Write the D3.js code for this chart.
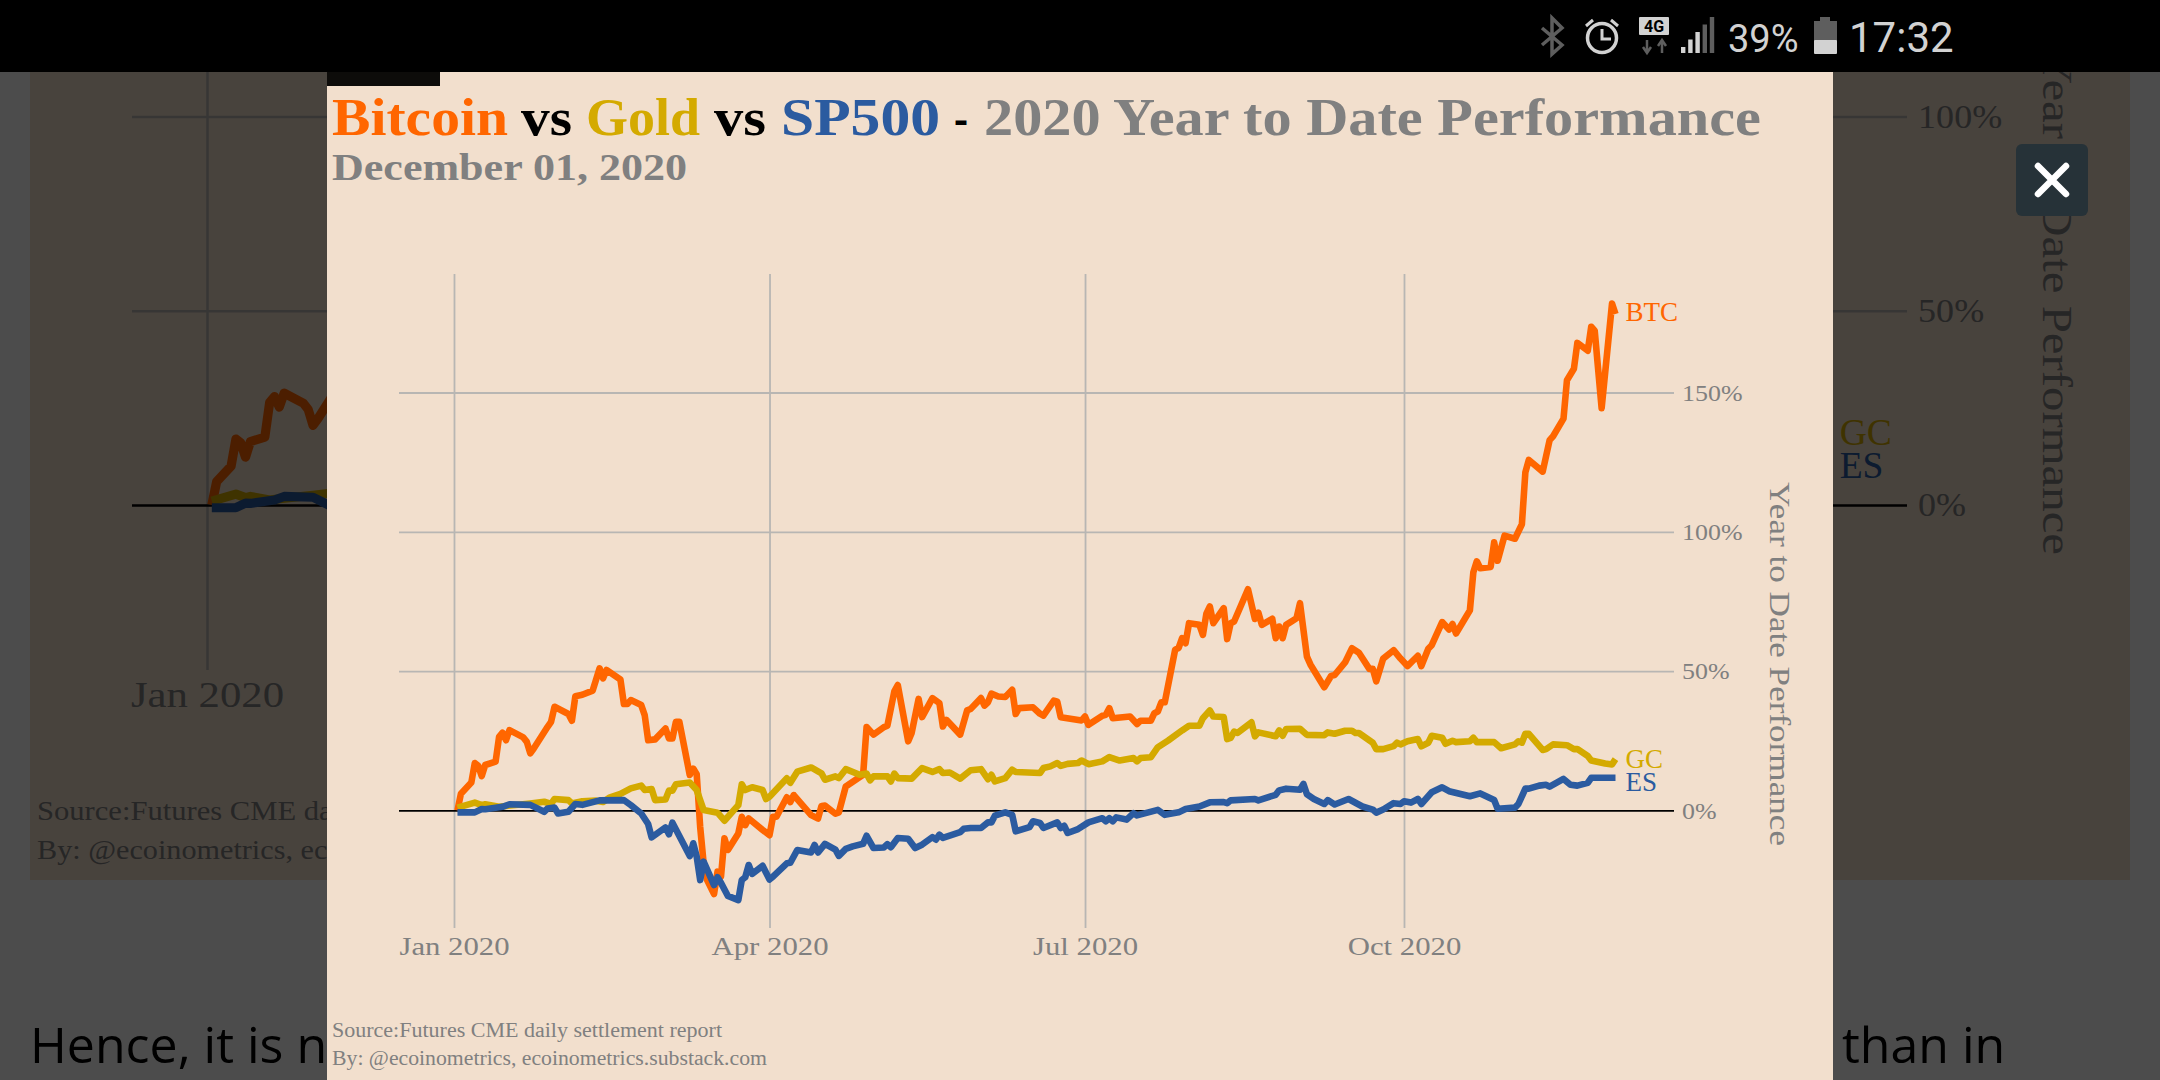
<!DOCTYPE html>
<html>
<head>
<meta charset="utf-8">
<script src="https://cdn.jsdelivr.net/npm/d3@7"></script>
<style>
  html, body { margin: 0; padding: 0; background: #fff; }
  svg { display: block; }
</style>
</head>
<body>
<svg id="chart" width="2160" height="1080"></svg>
<script>
// [days since Jan 1 2020, year to date %]
const btcPoints = [
  [1,0],[2,6],[5,10],[6,17],[7,16],[8,12.3],[9,16.3],[12,17.5],[13,26.4],[14,27.9],[15,25.2],[16,28.8],
  [20,26.2],[21,24.6],[22,20.5],[23,22.2],[27,30],[28,31.8],[29,37.2],[33,34.6],[34,32.2],[35,41],[37,41.5],
  [40,43],[42,51],[43,47.4],[44,50.4],[48,47],[49,38.2],[50,38.2],[51,39.6],[54,37.8],[55,34.2],[56,25.2],
  [58,25.5],[61,29.4],[62,25.8],[63,25.8],[64,31.8],[65,31.8],[68,12.7],[69,15],[70,13],[71,-5.9],[72,-19],
  [73,-25],[75,-30],[76,-22],[77,-23.8],[78,-10],[79,-14.2],[82,-8.3],[83,-2.3],[84,-5.3],[85,-2.9],[89,-7],
  [91,-8.9],[92,-2.3],[93,-2.3],[96,4.7],[97,3],[98,5.5],[103,-1.7],[105,-2.9],[106,1.6],[107,1.7],[110,-1.2],
  [111,-0.7],[113,8.6],[118,12.8],[119,29.9],[121,27.2],[124,29.9],[125,30.4],[127,42.7],[128,45],[131,24.8],
  [132,27.8],[134,40],[135,33.5],[138,40.3],[140,38.5],[141,30.1],[142,32.5],[146,27.2],[148,35.9],[149,36.4],
  [152,40.3],[153,37.6],[154,38.8],[155,41.9],[157,40.9],[159,40.7],[161,43.3],[162,34.6],[163,36.7],[167,37],
  [169,34.7],[170,34],[173,39.4],[174,39],[175,33.4],[181,32.3],[182,33.7],[183,30.7],[187,34],[188,34.3],
  [189,36.7],[190,33.1],[195,33.7],[197,31],[198,32.2],[201,32.2],[202,34.9],[203,35.5],[204,38.8],[205,38.8],
  [208,57.7],[209,58.3],[210,61.8],[211,60],[212,67.2],[215,66.6],[216,63],[217,70.6],[218,73.2],[219,67.2],
  [222,72.6],[223,61.5],[224,67.2],[225,67.8],[229,79.4],[231,68.7],[232,71],[233,66.6],[236,68.8],[237,61.8],
  [238,66],[239,61.8],[240,66.6],[243,69],[244,74.4],[246,55.2],[247,52.4],[251,44.2],[253,48.3],[254,48.6],
  [257,53.1],[259,58.2],[261,56.6],[264,50.8],[265,50.8],[266,46.3],[268,54.5],[271,57.5],[273,54.5],[275,51.8],
  [278,55.5],[279,51.8],[281,58],[282,59.3],[285,67.6],[287,64.9],[288,66.9],[289,63.5],[293,71.8],[294,85.5],
  [295,89.4],[296,86.9],[299,87.4],[300,96.2],[301,89.6],[303,98.6],[306,97.5],[308,102.7],[309,121.3],[310,125.8],
  [314,121.6],[316,132.9],[317,134.3],[320,140.6],[321,154.4],[323,158.5],[324,167.8],[327,165],[328,173.6],
  [329,172.2],[331,144.4],[334,181.9],[335,178.2]
]
const gcPoints = [
  [1,1],[6,2.8],[8,1.9],[9,2.2],[13,1.3],[15,1.6],[22,2.5],[26,3.1],[28,2.3],[29,4.1],[33,3.7],[34,2.5],[37,3.3],
  [41,3.5],[43,3],[45,4.7],[48,5.9],[51,7.9],[54,8.9],[55,7.3],[57,7.7],[58,3.7],[61,3.9],[62,7.1],[63,7.1],
  [64,9.4],[68,10],[70,7.3],[72,0.1],[76,-0.8],[78,-3.7],[82,1.9],[83,9.4],[84,7.3],[86,8.3],[89,7.3],[90,4.1],
  [91,4.9],[96,11.5],[97,9.9],[99,13.9],[103,15.4],[106,13.3],[107,11],[110,12.2],[111,11.6],[113,14.8],[117,12.8],
  [119,13.2],[120,10.8],[121,12.2],[125,12.2],[126,10.4],[127,13.2],[128,11.6],[132,11.4],[135,15.2],[138,13.8],
  [140,14.8],[141,13.4],[143,13.6],[146,11.4],[149,14.4],[152,14.8],[154,11.2],[155,12.8],[156,10.4],[159,11.6],
  [161,14.6],[162,13.8],[169,13.4],[170,15.2],[172,15.8],[174,17],[175,16],[177,16.7],[180,17],[181,17.9],[183,16.6],
  [187,17.6],[189,19.1],[192,17.9],[196,18.8],[197,17.6],[198,18.8],[201,19.1],[203,22.7],[206,25.1],[210,28.7],
  [212,30.4],[215,30.4],[216,33.1],[218,35.9],[219,33.7],[222,33.5],[223,25.6],[224,26],[225,28.3],[226,27.8],
  [230,31.6],[231,26.6],[232,28],[237,26.6],[238,28.7],[239,26.8],[240,29.2],[244,29.3],[246,27.1],[251,27],[252,28],
  [254,27.5],[257,28.6],[259,28.6],[260,27.8],[261,27.8],[265,24.3],[266,22],[268,22],[271,23.1],[272,24.3],[273,23.7],
  [275,24.8],[278,25.6],[279,23],[281,24.3],[282,26.8],[285,26.1],[286,23.9],[288,25],[289,24.5],[293,24.8],[294,26.1],
  [295,24.5],[300,24.5],[302,22.3],[306,23.7],[307,24.8],[308,24.3],[309,27.5],[310,27.5],[314,21.7],[315,22],[317,23.7],
  [321,23.4],[323,22],[324,22],[327,19.5],[328,17.9],[332,16.8],[334,16.5],[335,18.4]
]
const esPoints = [
  [1,-0.7],[6,-0.7],[8,0.5],[9,0.4],[14,1.3],[16,2.2],[22,2],[26,-0.5],[27,0.7],[29,1],[30,-1.1],[33,-0.5],[35,2.3],
  [37,2],[42,3.6],[49,3.7],[51,1.9],[54,-1.1],[56,-4.9],[57,-9.7],[61,-6.1],[62,-8.6],[63,-4.4],[68,-16.4],[69,-11.8],
  [70,-16.6],[71,-25],[72,-18.4],[75,-26.8],[76,-24],[77,-26],[79,-30.7],[82,-32.2],[83,-25],[84,-24],[85,-19.6],
  [86,-22.8],[89,-19.9],[91,-24.8],[92,-23.8],[96,-19],[97,-18.8],[99,-14.2],[103,-15.1],[104,-12.4],[105,-15.1],
  [107,-12],[110,-14.1],[111,-16.3],[113,-13.8],[115,-12.9],[118,-12],[119,-9.1],[121,-13.5],[124,-13.3],[125,-12.1],
  [126,-13.2],[128,-9.9],[131,-10.2],[133,-13.5],[135,-12.3],[138,-9.6],[139,-10.5],[140,-8.7],[141,-9.9],[146,-7.8],
  [147,-6.6],[149,-6.3],[152,-6.3],[154,-4.3],[155,-4.3],[156,-1.9],[159,-0.7],[161,-1.6],[162,-7.5],[166,-6],[167,-3.9],
  [169,-4.5],[170,-6.3],[174,-4.3],[175,-6.3],[176,-5.5],[177,-8.1],[180,-6.7],[183,-4.3],[187,-2.8],[188,-3.9],[189,-2.8],
  [190,-3.9],[191,-2.5],[194,-3.3],[196,-1],[197,-1.8],[203,0.2],[205,-1.6],[209,-0.7],[211,0.5],[215,1.4],[218,2.9],
  [222,3],[223,2.6],[224,3.6],[231,4.1],[232,3.6],[237,5.6],[238,7.2],[240,7.8],[244,7.4],[245,9.5],[246,5.8],[248,4.1],
  [251,2.3],[252,3.7],[254,2.1],[258,4.1],[262,1.4],[265,0.3],[266,-0.8],[268,0.3],[271,2.6],[273,2.3],[274,3.3],[276,2.8],
  [278,4.1],[279,2.3],[282,6.5],[285,8.3],[287,6.9],[293,5.1],[296,6.1],[300,3.7],[301,0.6],[306,1],[307,2.3],[309,7.8],
  [310,7.8],[313,8.9],[315,9.2],[316,8.5],[320,11.3],[322,9.2],[324,8.9],[327,9.9],[328,11.7],[335,11.7]
]
const seriesNames = ['BTC', 'GC', 'ES']
const seriesPoints = [btcPoints, gcPoints, esPoints]
const seriesColors = ['#ff6600', '#d4aa00', '#2b5ba0']
const yTicks = [0, 50, 100, 150]
const xTickMonths = [0, 3, 6, 9]

const titleParts = [
  ['Bitcoin', '#ff6600', 332, 176],
  ['vs', '#000000', 521, 51],
  ['Gold', '#d4aa00', 586, 114],
  ['vs', '#000000', 714, 52],
  ['SP500', '#2b5ba0', 781, 159],
  ['-', '#000000', 954, 14],
  ['2020 Year to Date Performance', '#808080', 984, 777],
]
const subtitle = 'December 01, 2020'
const sourceLines = ['Source:Futures CME daily settlement report', 'By: @ecoinometrics, ecoinometrics.substack.com']
const yAxisTitle = 'Year to Date Performance'

const SERIF = '"Liberation Serif", "DejaVu Serif", serif'
const svg = d3.select('#chart')
const yearStart = new Date(Date.UTC(2020, 0, 1))
const toDate = (day) => d3.utcDay.offset(yearStart, day)

// squeeze or stretch a text selection to an exact width
function fit(sel, width) {
  sel.attr('textLength', width).attr('lengthAdjust', 'spacingAndGlyphs')
  return sel
}
function stretch(sel, factor) {
  sel.each(function () {
    d3.select(this)
      .attr('textLength', this.getComputedTextLength() * factor)
      .attr('lengthAdjust', 'spacingAndGlyphs')
  })
}

// the same chart is drawn twice: the dimmed page behind, and the opened lightbox
function drawChart(layer, o) {
  const x = d3.scaleUtc().domain([yearStart, toDate(274)]).range([o.janX, o.octX])
  const y = d3.scaleLinear().domain([0, 100]).range([o.zeroY, o.hundredY])
  const k = o.k

  const xAxis = layer.append('g')
    .attr('transform', `translate(0,${o.bottom})`)
    .call(d3.axisBottom(x)
      .tickValues(o.months.map((m) => new Date(Date.UTC(2020, m, 1))))
      .tickFormat(d3.utcFormat('%b %Y'))
      .tickSize(-654 * k)
      .tickPadding(9 * k))
  xAxis.select('.domain').remove()
  xAxis.selectAll('line').attr('stroke', o.grid).attr('stroke-width', 1.8 * k)
  xAxis.selectAll('text')
    .attr('fill', o.text)
    .attr('font-family', SERIF)
    .attr('font-size', 25 * k)
    .call(stretch, 1.23)

  const yAxis = layer.append('g')
    .attr('transform', `translate(${o.right},0)`)
    .call(d3.axisRight(y)
      .tickValues(o.ticks)
      .tickFormat((d) => d + '%')
      .tickSize(-(o.right - o.left))
      .tickPadding(8 * k))
  yAxis.select('.domain').remove()
  yAxis.selectAll('line')
    .attr('stroke', (d) => (d === 0 ? '#000' : o.grid))
    .attr('stroke-width', 1.8 * k)
  yAxis.selectAll('text')
    .attr('fill', o.text)
    .attr('font-family', SERIF)
    .attr('font-size', 24 * k)
    .call(stretch, 1.08)

  layer.append('text')
    .attr('transform', `translate(${o.titleX},${o.titleY}) rotate(90)`)
    .attr('text-anchor', 'middle')
    .attr('font-family', SERIF)
    .attr('font-size', 30 * k)
    .attr('fill', o.text)
    .text(yAxisTitle)
    .call(fit, 364 * k)

  const line = d3.line().x((d) => x(toDate(d[0]))).y((d) => y(d[1]))
  const nudges = [7.4, 8.5, 13]

  seriesPoints.forEach((points, i) => {
    layer.append('path')
      .datum(points)
      .attr('d', line)
      .attr('fill', 'none')
      .attr('stroke', seriesColors[i])
      .attr('stroke-width', 6.6 * k)
      .attr('stroke-linejoin', 'round')

    if (!o.labels.includes(seriesNames[i])) return
    const last = points[points.length - 1]
    layer.append('text')
      .attr('x', x(toDate(last[0])) + o.labelGap)
      .attr('y', y(last[1]) + nudges[i] * k)
      .attr('font-family', SERIF)
      .attr('font-size', 27 * k)
      .attr('fill', seriesColors[i])
      .text(seriesNames[i])
  })
}

// page behind the lightbox, only the parts that still show around it
const page = svg.append('g')
page.append('rect').attr('width', 2160).attr('height', 1080).attr('fill', '#fff')
page.append('rect').attr('x', 30).attr('y', 72).attr('width', 2100).attr('height', 808).attr('fill', '#f2dfcd')
drawChart(page.append('g'), {
  k: 1.39, janX: 207, octX: 207 + 274 * 4.82, zeroY: 505, hundredY: 116.6,
  bottom: 670, left: 132, right: 1907, titleX: 2043, titleY: 302,
  grid: '#b8b6b3', text: '#808080',
  months: [0], ticks: [0, 50, 100], labels: ['GC', 'ES'], labelGap: 18,
})
sourceLines.forEach((t, i) => {
  page.append('text')
    .attr('x', 37).attr('y', [820, 859][i])
    .attr('font-family', SERIF).attr('font-size', 27).attr('fill', '#808080')
    .text(t).call(fit, [542, 604][i])
})
page.append('text').attr('x', 30).attr('y', 1063)
  .attr('font-family', '"Open Sans"').attr('font-size', 50).attr('fill', '#000').text('Hence, it is n')
page.append('text').attr('x', 1842).attr('y', 1063)
  .attr('font-family', '"Open Sans"').attr('font-size', 50).attr('fill', '#000').text('than in')
page.append('rect').attr('width', 2160).attr('height', 1080).attr('fill', 'rgba(0,0,0,0.7)')

// lightbox
const modal = svg.append('g')
modal.append('rect').attr('x', 327).attr('y', 72).attr('width', 1506).attr('height', 1008).attr('fill', '#f2dfcd')
modal.append('rect').attr('x', 327).attr('y', 72).attr('width', 113).attr('height', 14).attr('fill', '#0d0c0a')

titleParts.forEach(([label, color, tx, width]) => {
  modal.append('text')
    .attr('x', tx).attr('y', 135)
    .attr('font-family', SERIF).attr('font-weight', 700).attr('font-size', 52)
    .attr('fill', color).text(label)
    .call(fit, width)
})
modal.append('text')
  .attr('x', 332).attr('y', 180)
  .attr('font-family', SERIF).attr('font-weight', 700).attr('font-size', 37)
  .attr('fill', '#808080').text(subtitle)
  .call(fit, 355)

drawChart(modal.append('g'), {
  k: 1, janX: 454, octX: 1404, zeroY: 810.4, hundredY: 531.8,
  bottom: 928, left: 399, right: 1674, titleX: 1770, titleY: 664,
  grid: '#b8b6b3', text: '#808080',
  months: xTickMonths, ticks: yTicks, labels: seriesNames, labelGap: 10,
})
sourceLines.forEach((t, i) => {
  modal.append('text')
    .attr('x', 332).attr('y', [1037, 1065][i])
    .attr('font-family', SERIF).attr('font-size', 20).attr('fill', '#808080')
    .text(t).call(fit, [390, 435][i])
})

// close button
const closeBtn = svg.append('g')
closeBtn.append('rect')
  .attr('x', 2016).attr('y', 144).attr('width', 72).attr('height', 72).attr('rx', 6)
  .attr('fill', '#263238')
closeBtn.append('path')
  .attr('d', 'M2038 166L2066 194M2066 166L2038 194')
  .attr('stroke', '#fff').attr('stroke-width', 6.5).attr('stroke-linecap', 'round')

// phone status bar
const bar = svg.append('g')
bar.append('rect').attr('width', 2160).attr('height', 72).attr('fill', '#000')
const LIGHT = '#d2d2d2'
const DIM = '#5e5e5e'
bar.append('path') // bluetooth
  .attr('d', 'M1542 28L1562 45L1552 54L1552 18L1562 28L1542 45')
  .attr('fill', 'none').attr('stroke', DIM).attr('stroke-width', 3.5)
bar.append('circle').attr('cx', 1602).attr('cy', 38).attr('r', 14.5)
  .attr('fill', 'none').attr('stroke', LIGHT).attr('stroke-width', 3.5)
bar.append('path') // alarm hands and ears
  .attr('d', 'M1602 29V39H1611M1586 26L1593 20M1618 26L1611 20')
  .attr('fill', 'none').attr('stroke', LIGHT).attr('stroke-width', 3)
bar.append('rect').attr('x', 1639).attr('y', 17).attr('width', 30).attr('height', 18).attr('rx', 1).attr('fill', LIGHT)
bar.append('text').attr('x', 1654).attr('y', 32).attr('text-anchor', 'middle')
  .attr('font-family', 'Roboto').attr('font-weight', 700).attr('font-size', 16).attr('fill', '#000').text('4G')
bar.append('path') // data arrows
  .attr('d', 'M1647 40V52M1643 47L1647 53L1651 47')
  .attr('fill', 'none').attr('stroke', DIM).attr('stroke-width', 2.5)
bar.append('path')
  .attr('d', 'M1662 53V41M1658 46L1662 40L1666 46')
  .attr('fill', 'none').attr('stroke', DIM).attr('stroke-width', 2.5)
d3.range(5).forEach((i) => {
  const h = 6 + i * 7.5
  bar.append('rect')
    .attr('x', 1681 + i * 7.2).attr('y', 53 - h).attr('width', 4.4).attr('height', h)
    .attr('fill', i < 3 ? LIGHT : DIM)
})
bar.append('text').attr('x', 1728).attr('y', 52)
  .attr('font-family', 'Roboto').attr('font-size', 38).attr('fill', LIGHT).text('39%')
bar.append('rect').attr('x', 1820).attr('y', 17).attr('width', 10).attr('height', 5).attr('fill', DIM)
bar.append('rect').attr('x', 1814).attr('y', 21).attr('width', 23).attr('height', 20).attr('fill', DIM)
bar.append('rect').attr('x', 1814).attr('y', 40).attr('width', 23).attr('height', 14).attr('rx', 1).attr('fill', LIGHT)
bar.append('text').attr('x', 1849).attr('y', 52)
  .attr('font-family', 'Roboto').attr('font-size', 42).attr('fill', LIGHT).text('17:32')
</script>
</body>
</html>
